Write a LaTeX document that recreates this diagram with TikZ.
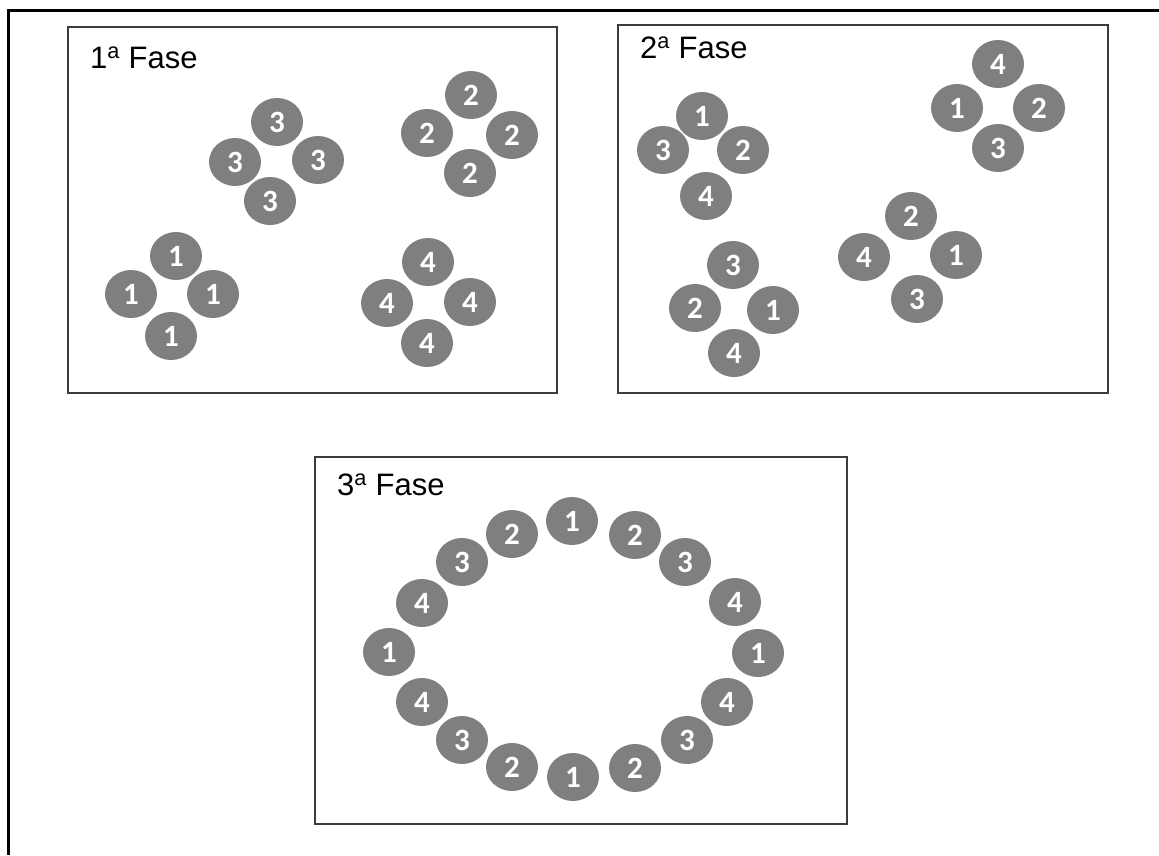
\documentclass[tikz,border=0pt]{standalone}
\usepackage{fontspec}
\setmainfont{Liberation Sans}
\newfontfamily\tokfont{Carlito}[BoldFont={Carlito Bold}]
\usetikzlibrary{shapes.geometric}
\definecolor{tokgray}{RGB}{127,127,127}
\definecolor{boxgray}{RGB}{60,60,60}

\begin{document}
\begin{tikzpicture}[x=1pt, y=-1pt,
		token/.style = {ellipse, fill=tokgray, minimum width=52pt, minimum height=48pt, inner sep=0pt, text=white, font=\tokfont\bfseries\fontsize{31}{31}\selectfont},
		fase/.style = {anchor=base west, inner sep=0pt, font=\fontsize{31}{31}\selectfont},
		box/.style = {draw=boxgray, line width=1.6pt}]
		\useasboundingbox (0,0) rectangle (1159,855);
		% outer frame (top and left edge only)
		\draw[line width=3pt] (8,855) -- (8,10) -- (1159,10);
		% the three phases
		\draw[box] (68,27) rectangle (557,393);
		\draw[box] (618,25) rectangle (1108,393);
		\draw[box] (315,457) rectangle (847,824);
		\node[fase] (fase1) at (90,68) {1\textsuperscript{a} Fase};
		\node[fase] (fase2) at (640,58) {2\textsuperscript{a} Fase};
		\node[fase] (fase3) at (337,495) {3\textsuperscript{a} Fase};
		% phase 1: groups of equal numbers
		\foreach \n/\x/\y/\t in {
			a1/277/122/3, a2/235/162/3, a3/318/160/3, a4/270/201/3,
			b1/471/95/2, b2/427/133/2, b3/512/135/2, b4/470/173/2,
			c1/176/256/1, c2/131/294/1, c3/213/294/1, c4/171/336/1,
			d1/428/262/4, d2/387/303/4, d3/470/302/4, d4/427/343/4}
			\node[token] (\n) at (\x,\y) {\t};
		% phase 2: mixed groups
		\foreach \n/\x/\y/\t in {
			e1/702/116/1, e2/663/150/3, e3/743/150/2, e4/706/196/4,
			f1/998/64/4, f2/957/108/1, f3/1039/108/2, f4/998/148/3,
			g1/733/265/3, g2/695/308/2, g3/773/310/1, g4/734/353/4,
			h1/911/216/2, h2/864/257/4, h3/956/255/1, h4/917/299/3}
			\node[token] (\n) at (\x,\y) {\t};
		% phase 3: one ring
		\foreach \n/\x/\y/\t in {
			r1/572/521/1, r2/635/535/2, r3/685/562/3, r4/735/602/4,
			r5/758/653/1, r6/727/702/4, r7/687/740/3, r8/635/768/2,
			r9/573/777/1, r10/512/767/2, r11/462/740/3, r12/422/702/4,
			r13/389/652/1, r14/422/603/4, r15/462/562/3, r16/512/534/2}
			\node[token] (\n) at (\x,\y) {\t};
	\end{tikzpicture}
\end{document}
